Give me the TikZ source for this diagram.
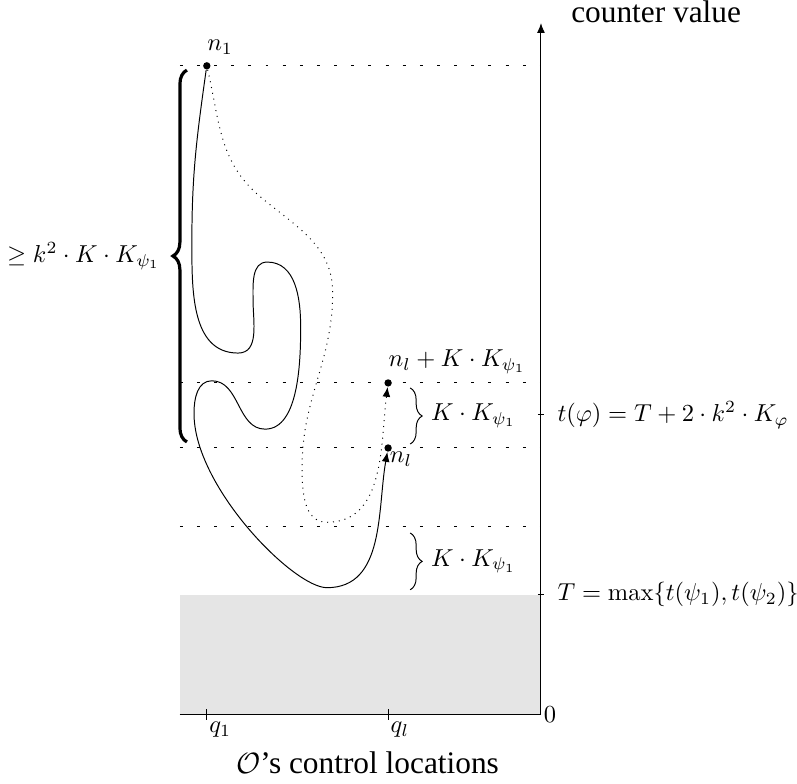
\documentclass[tikz,border=0pt]{standalone}
\usepackage{amsmath, amssymb}
\usepackage{fontspec}
\newfontfamily\labelfont{Liberation Serif}
\usepackage{tikz}
\usetikzlibrary{arrows.meta, positioning, calc, decorations.pathreplacing}

\begin{document}
\begin{tikzpicture}[>={Latex[length=4pt,width=3.2pt]}, scale=1.02,
    rowline/.style={dash pattern=on 1.2pt off 5.8pt},
    blob/.style={circle, fill, inner sep=0pt, minimum size=3pt},
    bigbrace/.style={decorate, decoration={brace, amplitude=5.7pt}, line width=1.3pt},
    smallbrace/.style={decorate, decoration={brace, amplitude=4.9pt}},
    axistext/.style={font=\labelfont\fontsize{12.8}{15}\selectfont}]
          \useasboundingbox (-7.609,-0.970) rectangle (3.601,10.056);

          \def\xL{-5.08}\def\yT{1.69}\def\yPhi{4.22}
          \def\yA{2.644}\def\yB{3.755}\def\yC{4.67}\def\yD{9.13}

          \fill[black!10] (\xL,0) rectangle (0,\yT);
          \coordinate (O) at (0,0);
          \coordinate (xend) at (\xL,0);
          \coordinate (ytop) at (0,9.73);
          \draw (xend) -- (O) node[right, inner sep=1pt] (zero) {$0$};
          \draw[->] (O) -- (ytop);
          \node[axistext, anchor=base] (cv) at (1.62,9.745) {counter value};
          \node[axistext, anchor=base] (locs) at (-2.44,-0.82)
              {$\mathcal{O}$’s control locations};

          \foreach \y in {\yA,\yB,\yC,\yD}
              \draw[rowline] (\xL,\y) -- (0,\y);

          % ticks on both axes
          \draw (-1.2pt,\yT) -- (1.2pt,\yT)
              node[right=2pt] (tval) {$T=\max\{t(\psi_1),t(\psi_2)\}$};
          \draw (-1.2pt,\yPhi) -- (1.2pt,\yPhi)
              node[right=2pt] (tphi) {$t(\varphi)=T+2\cdot k^2\cdot K_\varphi$};
          \draw (-4.70,2.3pt) -- (-4.70,-2pt)
              node[anchor=north west, inner sep=0.8pt] (q1) {$q_1$};
          \draw (-2.15,2.3pt) -- (-2.15,-2pt)
              node[anchor=north west, inner sep=0.8pt] (ql) {$q_l$};

          \node[blob] (n1) at (-4.70,\yD) {};
          \node[blob] (nl) at (-2.15,\yB) {};
          \node[blob] (nlK) at (-2.15,\yC) {};
          \node[anchor=base west, inner sep=0pt] (n1lab) at ([yshift=6pt]n1.center) {$n_1$};
          \node[anchor=base west, inner sep=0pt] (nlKlab) at ([yshift=6.5pt]nlK.center)
              {$n_l+K\cdot K_{\psi_1}$};
          \node[anchor=base west, inner sep=0pt] (nllab) at ([xshift=0.5pt,yshift=-5.8pt]nl.center)
              {$n_l$};

          \draw[->] (n1) to[out=262,in=90] (-4.91,6.68)
              to[out=270,in=180] (-4.26,5.09)
              to[out=0,in=270] (-4.05,5.84)
              to[out=90,in=180] (-3.85,6.37)
              to[out=0,in=90] (-3.38,5.46)
              to[out=270,in=0,looseness=0.8] (-3.88,4.02)
              to[out=180,in=0] (-4.63,4.70)
              to[out=180,in=90] (-4.88,4.25)
              .. controls (-4.89,3.22) and (-3.48,1.79) .. (-3.01,1.79)
              to[out=0,in=260] (nl);
          \draw[->, dotted] (n1) to[out=-77,in=140] (-3.95,7.29)
              to[out=-40,in=90] (-2.93,5.94)
              to[out=270,in=90] (-3.36,3.49)
              to[out=270,in=180] (-3.01,2.71)
              to[out=0,in=263] (nlK);

          \draw[bigbrace] (-4.98,3.84) -- (-4.98,9.07)
              node[midway, left=7pt] (kbig) {$\geq k^2\cdot K\cdot K_{\psi_1}$};
          \draw[smallbrace] (-1.84,4.60) -- (-1.84,3.81)
              node[midway, right=5pt] (kup) {$K\cdot K_{\psi_1}$};
          \draw[smallbrace] (-1.84,2.56) -- (-1.84,1.76)
              node[midway, right=5pt] (klow) {$K\cdot K_{\psi_1}$};
\end{tikzpicture}
\end{document}
